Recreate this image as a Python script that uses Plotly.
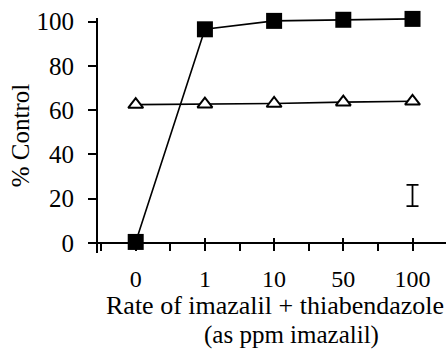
import plotly.graph_objects as go

# Data
categories = ["0", "1", "10", "50", "100"]
cat_pos = [0, 1, 2, 3, 4]
imazalil_tbz = [0.5, 96.5, 100.3, 100.8, 101.2]
other_series = [62.5, 62.7, 63.0, 63.6, 64.0]
lsd_x = [4]
lsd_y = [21.5]
lsd_err = [4.8]

y_ticks = [0, 20, 40, 60, 80, 100]
x_tickvals = [-0.5, 0, 0.5, 1, 1.5, 2, 2.5, 3, 3.5, 4]
x_ticktext = ["", "0", "", "1", "", "10", "", "50", "", "100"]

FONT = "Times New Roman"
XR = [-0.545, 4.484]
YR = [-4.5, 101.6]
xpos = (0 - YR[0]) / (YR[1] - YR[0])
PH = 235.5  # plot height px
TOP = 17.5

fig = go.Figure()
fig.add_trace(go.Scatter(
    x=cat_pos, y=other_series, mode="lines+markers",
    line=dict(color="black", width=1.6),
    marker=dict(symbol="triangle-up", size=13, color="white",
                line=dict(color="black", width=2)),
    cliponaxis=False, showlegend=False))
fig.add_trace(go.Scatter(
    x=cat_pos, y=imazalil_tbz, mode="lines+markers",
    line=dict(color="black", width=1.6),
    marker=dict(symbol="square", size=16, color="black"),
    cliponaxis=False, showlegend=False))
fig.add_trace(go.Scatter(
    x=lsd_x, y=lsd_y, mode="markers",
    marker=dict(size=1, color="rgba(0,0,0,0)"),
    error_y=dict(type="data", array=lsd_err, color="black", thickness=1.8, width=6),
    showlegend=False))

fig.update_layout(
    width=446, height=350,
    margin=dict(l=98, r=0, t=TOP, b=350 - TOP - PH),
    paper_bgcolor="white", plot_bgcolor="white",
    font=dict(family=FONT, color="black"),
    xaxis=dict(range=XR, anchor="free", position=xpos,
               tickvals=x_tickvals, ticktext=x_ticktext,
               ticks="outside", ticklen=7, tickwidth=1.8, tickcolor="black",
               ticklabelstandoff=7,
               showline=True, linecolor="black", linewidth=1.8,
               showgrid=False, zeroline=False,
               tickfont=dict(size=24, family=FONT)),
    xaxis2=dict(range=XR, overlaying="x", anchor="free", position=xpos,
                tickvals=cat_pos, ticks="inside", ticklen=5, tickwidth=1.8,
                tickcolor="black", showticklabels=False,
                showline=False, showgrid=False, zeroline=False),
    yaxis=dict(range=YR, tickvals=y_ticks,
               ticks="outside", ticklen=8, tickwidth=1.8, tickcolor="black",
               ticklabelstandoff=9,
               showline=True, linecolor="black", linewidth=1.8,
               showgrid=False, zeroline=False,
               tickfont=dict(size=25, family=FONT)),
)
fig.add_trace(go.Scatter(x=[None], y=[None], xaxis="x2", showlegend=False))

def py(pix):
    return (350 - (350 - TOP - PH) - pix) / PH

fig.add_annotation(text="% Control", xref="paper", yref="paper",
                   x=(20 - 98) / 348, y=py(135), textangle=-90,
                   showarrow=False, xanchor="center", yanchor="middle",
                   font=dict(size=25, family=FONT))
fig.add_annotation(text="Rate of imazalil + thiabendazole", xref="paper", yref="paper",
                   x=(274.5 - 98) / 348, y=py(305.5),
                   showarrow=False, xanchor="center", yanchor="middle",
                   font=dict(size=26, family=FONT))
fig.add_annotation(text="(as ppm imazalil)", xref="paper", yref="paper",
                   x=(291 - 98) / 348, y=py(335),
                   showarrow=False, xanchor="center", yanchor="middle",
                   font=dict(size=25, family=FONT))

fig.write_html("out.html")
